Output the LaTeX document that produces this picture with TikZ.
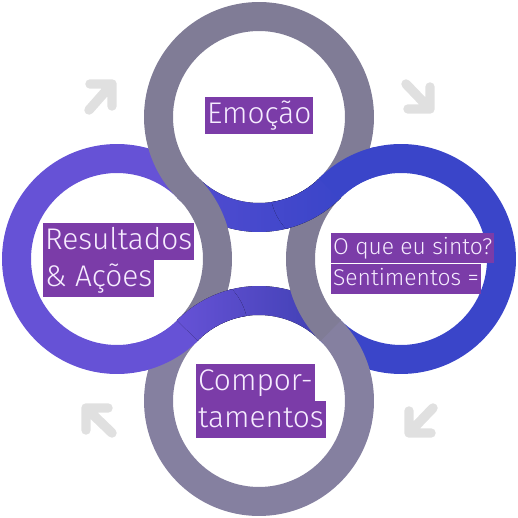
\documentclass[tikz,border=0pt]{standalone}
\usepackage{fontspec}
\setmainfont{Fira Sans}[UprightFont = * Light]
\usepackage{tikz}
\usetikzlibrary{calc}
\usetikzlibrary{positioning}
\definecolor{ringgray}{RGB}{128,124,150}
\definecolor{ringgraylt}{RGB}{133,128,160}
\definecolor{ringpurple}{RGB}{102,82,214}
\definecolor{ringblue}{RGB}{58,69,201}
\definecolor{ringdeep}{RGB}{60,62,176}
\definecolor{hlpurple}{RGB}{123,60,168}
\definecolor{hltext}{RGB}{246,236,255}
\definecolor{cyclegray}{RGB}{224,224,224}
\newcommand{\Rout}{115}
\newcommand{\Rin}{86}
% one piece of a ring: [style]{centre}{start angle}{end angle}
\newcommand{\ringpart}[4][]{\fill[#1] ($(#2)+(#3:\Rout)$) arc[start angle=#3, end angle=#4, radius=\Rout] -- ($(#2)+(#4:\Rin)$) arc[start angle=#4, end angle=#3, radius=\Rin] -- cycle;}
\tikzset{
  hl/.style = {fill = hlpurple, text = hltext, inner xsep = 1pt, inner ysep = 1.3pt, anchor = north west, font = \fontsize{17}{21}\selectfont, text height = 13.5pt, text depth = 4.6pt},
  hlsmall/.style = {hl, font = \fontsize{13}{16}\selectfont, text height = 10.8pt, text depth = 3.6pt},
  cycarrow/.style = {draw = cyclegray, line width = 5.4pt, line cap = round, line join = round}
}

\begin{document}
\begin{tikzpicture}[x = 0.02cm, y = 0.02cm]
\useasboundingbox (0,0) rectangle (518,518);
% ring centres
\coordinate (T) at (259,401);
\coordinate (L) at (117,259);
\coordinate (R) at (401,259);
\coordinate (B) at (259,117);
\coordinate (TR) at ($(T)!.5!(R)$);
\coordinate (BL) at ($(L)!.5!(B)$);

% blue loop
\ringpart[ringpurple]{L}{44.5}{315.5}
\ringpart[ringblue]{R}{-135.5}{135.5}
\ringpart[left color = ringpurple!55!ringblue, right color = ringblue]{T}{224.5}{315.5}
\ringpart[left color = ringpurple, right color = ringdeep]{B}{44.5}{135.5}

% gray loop
\ringpart[ringgray]{T}{-45.5}{225.5}
\ringpart[ringgraylt]{B}{134.5}{405.5}
\ringpart[ringgray]{L}{-45.5}{45.5}
\ringpart[ringgray]{R}{134.5}{225.5}

% blue over gray at two crossings
\begin{scope}
\clip (TR) circle (60);
\ringpart[left color = ringpurple!55!ringblue, right color = ringblue]{T}{224.5}{315.5}
\ringpart[ringblue]{R}{-135.5}{135.5}
\end{scope}
\begin{scope}
\clip (BL) circle (60);
\ringpart[ringpurple]{L}{44.5}{315.5}
\ringpart[left color = ringpurple, right color = ringdeep]{B}{44.5}{135.5}
\end{scope}

% labels
\node [hl] (emo) at (205,421) {Emoção};
\node [hl] (res1) at (43,295) {Resultados};
\node [hl] (res2) at (res1.south west) {\&\ Ações};
\node [hlsmall] (sin1) at (331,285) {O que eu sinto?};
\node [hlsmall] (sin2) at (sin1.south west) {Sentimentos =};
\node [hl] (com1) at (196,154) {Compor-};
\node [hl] (com2) at (com1.south west) {tamentos};

% cycle arrows
\foreach \sx/\sy/\ex/\ey/\hx/\vy in {89/408/112/434/-22/-22, 406/434/430/409/-22/22, 433/110/409/85/22/22, 112/85/86/110/22/-22}
  \draw [cycarrow] (\sx,\sy) -- (\ex,\ey) ++(\hx,0) -- (\ex,\ey) -- ++(0,\vy);
\end{tikzpicture}
\end{document}
